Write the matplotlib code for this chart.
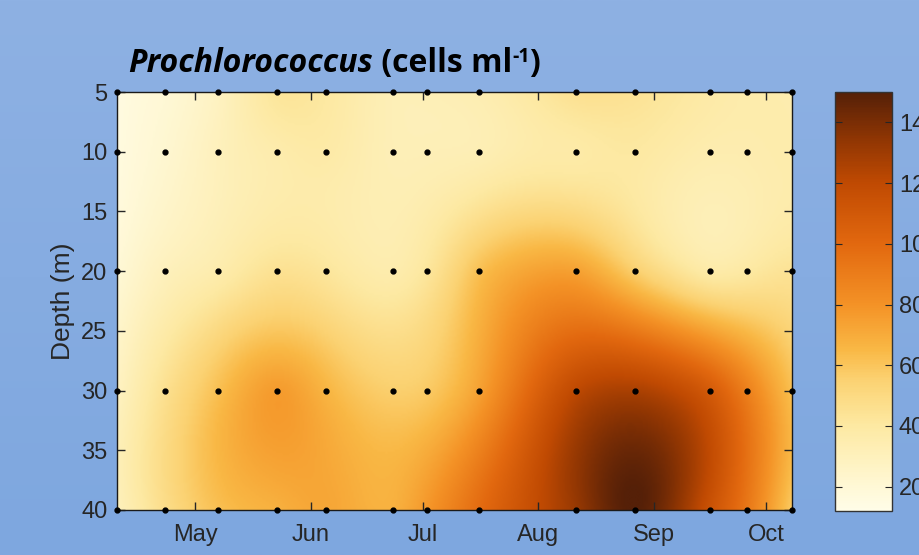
import numpy as np
import matplotlib.pyplot as plt
import matplotlib.dates as mdates
from matplotlib.colors import LinearSegmentedColormap
from matplotlib.ticker import FuncFormatter

# Sampling dates and depths
dates = np.array(['2013-04-10', '2013-04-23', '2013-05-07', '2013-05-23', '2013-06-05',
                  '2013-06-23', '2013-07-02', '2013-07-16', '2013-08-11', '2013-08-27',
                  '2013-09-16', '2013-09-26', '2013-10-08'], dtype='datetime64[D]')
depths = np.array([5, 10, 20, 30, 40])

# Prochlorococcus abundance (cells ml-1), one row per depth
cells_5m = [15000, 20000, 28000, 42000, 40000, 32000, 32000, 34000, 45000, 44000, 38000, 36000, 35000]
cells_10m = [16000, 22000, 30000, 36000, 38000, 32000, 32000, 33000, 38000, 40000, 35000, 35000, 36000]
cells_20m = [20000, 30000, 36000, 45000, 42000, 36000, 42000, 62000, 74000, 56000, 38000, 40000, 44000]
cells_30m = [28000, 46000, 62000, 76000, 66000, 56000, 58000, 74000, 120000, 126000, 108000, 88000, 62000]
cells_40m = [30000, 48000, 62000, 68000, 72000, 68000, 78000, 98000, 132000, 150000, 114000, 92000, 58000]

cbar_ticks = [20000, 40000, 60000, 80000, 100000, 120000, 140000]
vmin, vmax = 12000, 150000

cells = np.array([cells_5m, cells_10m, cells_20m, cells_30m, cells_40m], dtype=float)

# Colormap, cream -> yellow -> orange -> brown
stops = [(12000, '#fffde8'), (20000, '#fff8d5'), (40000, '#fde9a2'), (55000, '#fbd272'),
         (65000, '#f9b845'), (80000, '#f49226'), (100000, '#e2680f'), (120000, '#c04a02'),
         (135000, '#8e3503'), (150000, '#552008')]
cmap = LinearSegmentedColormap.from_list(
    'proc', [((v - vmin) / (vmax - vmin), c) for v, c in stops])


def biharmonic(xs, ys, vs, xq, yq):
    """Biharmonic spline surface through scattered points."""
    def green(d):
        with np.errstate(divide='ignore', invalid='ignore'):
            g = d ** 2 * (np.log(d) - 1)
        g[d == 0] = 0
        return g
    d = np.hypot(xs[:, None] - xs[None, :], ys[:, None] - ys[None, :])
    w = np.linalg.solve(green(d), vs)
    dq = np.hypot(xq.ravel()[:, None] - xs[None, :], yq.ravel()[:, None] - ys[None, :])
    return (green(dq) @ w).reshape(xq.shape)


xnum = mdates.date2num(dates)
day0 = xnum[0]
yscale = 3.2  # metres -> days so that the surface is smooth on screen
X, Y = np.meshgrid(xnum - day0, depths * yscale)
xq, yq = np.meshgrid(np.linspace(0, xnum[-1] - day0, 400), np.linspace(5, 40, 200) * yscale)
field = biharmonic(X.ravel(), Y.ravel(), cells.ravel(), xq, yq)

fig = plt.figure(figsize=(9.19, 5.55), dpi=100)

# blue backdrop
bg = fig.add_axes([0, 0, 1, 1], zorder=-10)
grad = np.linspace(0, 1, 256)[:, None, None]
top = np.array([142, 177, 227]) / 255
bot = np.array([126, 167, 223]) / 255
bg.imshow(top + (bot - top) * grad, aspect='auto', extent=[0, 1, 0, 1])
bg.axis('off')

plt.rcParams['font.family'] = ['Liberation Sans', 'DejaVu Sans']
tick_color = '#262626'

ax = fig.add_axes([0.1273, 0.0811, 0.7345, 0.7531])
im = ax.imshow(field, extent=[xnum[0], xnum[-1], 40, 5], aspect='auto', cmap=cmap,
               vmin=vmin, vmax=vmax, interpolation='bilinear', origin='upper')
dx, dy = np.meshgrid(xnum, depths)
ax.plot(dx.ravel(), dy.ravel(), 'o', color='black', ms=3.5, clip_on=False, zorder=5)

ax.set_xlim(xnum[0], xnum[-1])
ax.set_ylim(40, 5)
ax.xaxis_date()
ax.xaxis.set_major_locator(mdates.MonthLocator())
ax.xaxis.set_major_formatter(mdates.DateFormatter('%b'))
ax.set_yticks(np.arange(5, 41, 5))
ax.tick_params(direction='in', length=6, width=1, top=True, right=True,
               labelsize=17, colors=tick_color, pad=7)
ax.tick_params(axis='x', pad=10)
for sp in ax.spines.values():
    sp.set_color('#1a1a1a')
    sp.set_linewidth(1.0)
ax.set_ylabel('Depth (m)', fontsize=19, color=tick_color, labelpad=4)

cax = fig.add_axes([0.9086, 0.0793, 0.062, 0.755])
cb = fig.colorbar(im, cax=cax)
cb.set_ticks(cbar_ticks)
cb.ax.yaxis.set_major_formatter(FuncFormatter(lambda v, p: f'{v:.0f}'))
cb.ax.tick_params(direction='in', length=5, left=True, right=True,
                  labelsize=17, colors=tick_color, pad=5)
cb.outline.set_edgecolor('#333333')
cb.outline.set_linewidth(1.0)

# Title: italic genus name, then the units with a superscript
fig.canvas.draw()
rend = fig.canvas.get_renderer()
W, H = fig.bbox.width, fig.bbox.height
x0, base = 128 / W, 1 - 72 / H
title_font = ['Open Sans', 'DejaVu Sans']
pieces = [('Prochlorococcus', dict(style='italic', weight='bold', size=23), 0),
          (' (cells ml', dict(weight='bold', size=23), 0),
          ('-1', dict(weight='bold', size=14), 10),
          (')', dict(weight='bold', size=23), 0)]
x = x0
for txt, kw, rise in pieces:
    t = fig.text(x, base + rise / H, txt, family=title_font, color='black',
                 va='baseline', ha='left', **kw)
    x = t.get_window_extent(rend).x1 / W

fig.savefig('out.png', dpi=100)
